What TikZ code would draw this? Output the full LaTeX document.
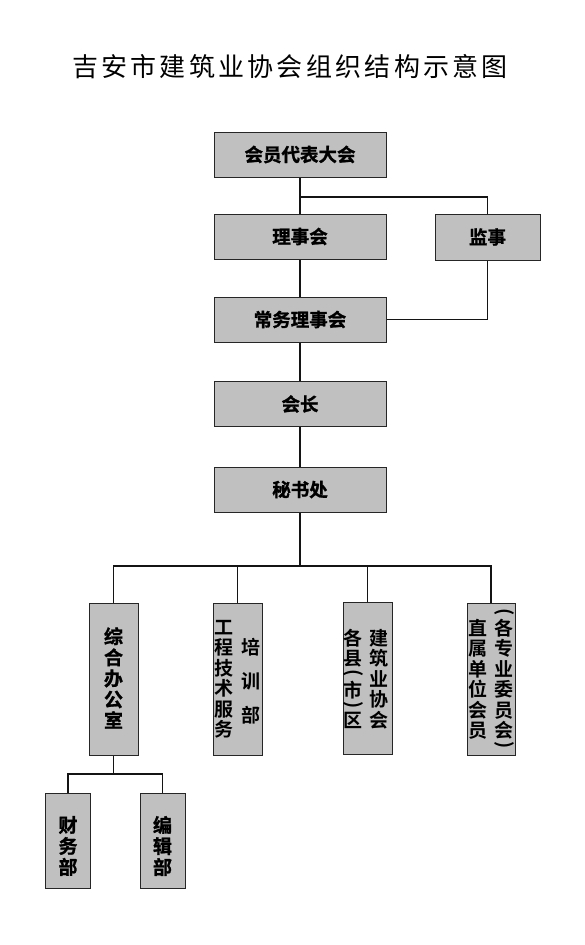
\documentclass[tikz,border=0pt]{standalone}
\usepackage{fontspec}
\usepackage{graphicx}
\newfontfamily\cjk{Noto Sans CJK SC}
\newfontfamily\cjkb{Noto Sans CJK SC Bold}
\newfontfamily\cjkh{Noto Sans CJK SC Bold}[FakeBold=1.3]
\definecolor{boxgray}{RGB}{192,192,192}
\definecolor{linecol}{RGB}{20,20,20}
\newcommand{\vlp}{\rotatebox{-90}{(}}
\newcommand{\vrp}{\rotatebox{-90}{)}}
\begin{document}
\begin{tikzpicture}[x=1pt,y=-1pt,
  hbox/.style={draw=black!85,line width=1pt,fill=boxgray,inner sep=0pt,
    minimum width=172pt,minimum height=45pt,font=\cjkh\fontsize{18.5}{20}\selectfont},
  vbox/.style={draw=black!85,line width=1pt,fill=boxgray,inner sep=0pt,
    minimum width=49pt,minimum height=152pt},
  sbox/.style={draw=black!85,line width=1pt,fill=boxgray,inner sep=0pt,
    minimum width=45pt,minimum height=95pt},
  vtext/.style={inner sep=0pt,align=center,font=\cjkb\fontsize{19}{20.5}\selectfont},
  vhtext/.style={inner sep=0pt,align=center,font=\cjkh\fontsize{19}{21}\selectfont},
  conn/.style={draw=linecol,line width=1.6pt}]
\useasboundingbox (0,0) rectangle (585,945);
\fill[white] (0,0) rectangle (585,945);

\node[font=\cjk\fontsize{26}{28}\selectfont,inner sep=0pt] (title) at (290,67)
  {\makebox[436pt][s]{吉\hfil 安\hfil 市\hfil 建\hfil 筑\hfil 业\hfil 协\hfil 会\hfil 组\hfil 织\hfil 结\hfil 构\hfil 示\hfil 意\hfil 图}};

\node[hbox] (dahui) at (300,154.5) {会员代表大会};
\node[hbox] (lishi) at (300,236.5) {理事会};
\node[hbox,minimum width=105pt,minimum height=46pt] (jianshi) at (487.5,237) {监事};
\node[hbox] (changwu) at (300,319.5) {常务理事会};
\node[hbox] (huizhang) at (300,404) {会长};
\node[hbox] (mishu) at (300,489.5) {秘书处};

\node[vbox] (zonghe) at (113.5,679) {};
\node[vbox] (gongcheng) at (237.5,679) {};
\node[vbox] (gexian) at (367.5,678.5) {};
\node[vbox,minimum width=48pt] (zhishu) at (491,679) {};

\node[sbox] (caiwu) at (68,840.5) {};
\node[sbox] (bianji) at (162.5,840.5) {};

% texts in vertical boxes
\node[vhtext] (t1) at (113.5,678) {综\\合\\办\\公\\室};
\node[vtext] (t2a) at (224,679) {工\\程\\技\\术\\服\\务};
\node[vtext,font=\cjkb\fontsize{19}{34}\selectfont] (t2b) at (251,681) {培\\训\\部};
\node[vtext] (t3a) at (353,679) {各\\县\\[-16.5pt]\vlp\\[3pt]市\\[-16.5pt]\vrp\\[3pt]区};
\node[vtext] (t3b) at (379,679) {建\\筑\\业\\协\\会};
\node[vtext] (t4a) at (478,679.5) {直\\属\\单\\位\\会\\员};
\node[vtext] (t4b) at (504,679) {\vlp\\[2pt]各\\专\\业\\委\\员\\会\\[-16.5pt]\vrp};
\node[vhtext] (t5) at (68,846) {财\\务\\部};
\node[vhtext] (t6) at (162.5,846) {编\\辑\\部};

% connectors
\coordinate (j1) at (300,197);
\coordinate (bus) at (300,566);
\coordinate (sub) at (113.5,774);
\draw[conn] (dahui.south) -- (lishi.north);
\draw[conn] (j1) -| (jianshi.north);
\draw[conn] (jianshi.south) |- (changwu.east);
\draw[conn] (lishi.south) -- (changwu.north);
\draw[conn] (changwu.south) -- (huizhang.north);
\draw[conn] (huizhang.south) -- (mishu.north);
\draw[conn] (mishu.south) -- (bus);
\draw[conn] (bus) -| (zonghe.north);
\draw[conn] (bus) -| (gongcheng.north);
\draw[conn] (bus) -| (gexian.north);
\draw[conn] (bus) -| (zhishu.north);
\draw[conn] (zonghe.south) -- (sub);
\draw[conn] (sub) -| (caiwu.north);
\draw[conn] (sub) -| (bianji.north);
\end{tikzpicture}
\end{document}
